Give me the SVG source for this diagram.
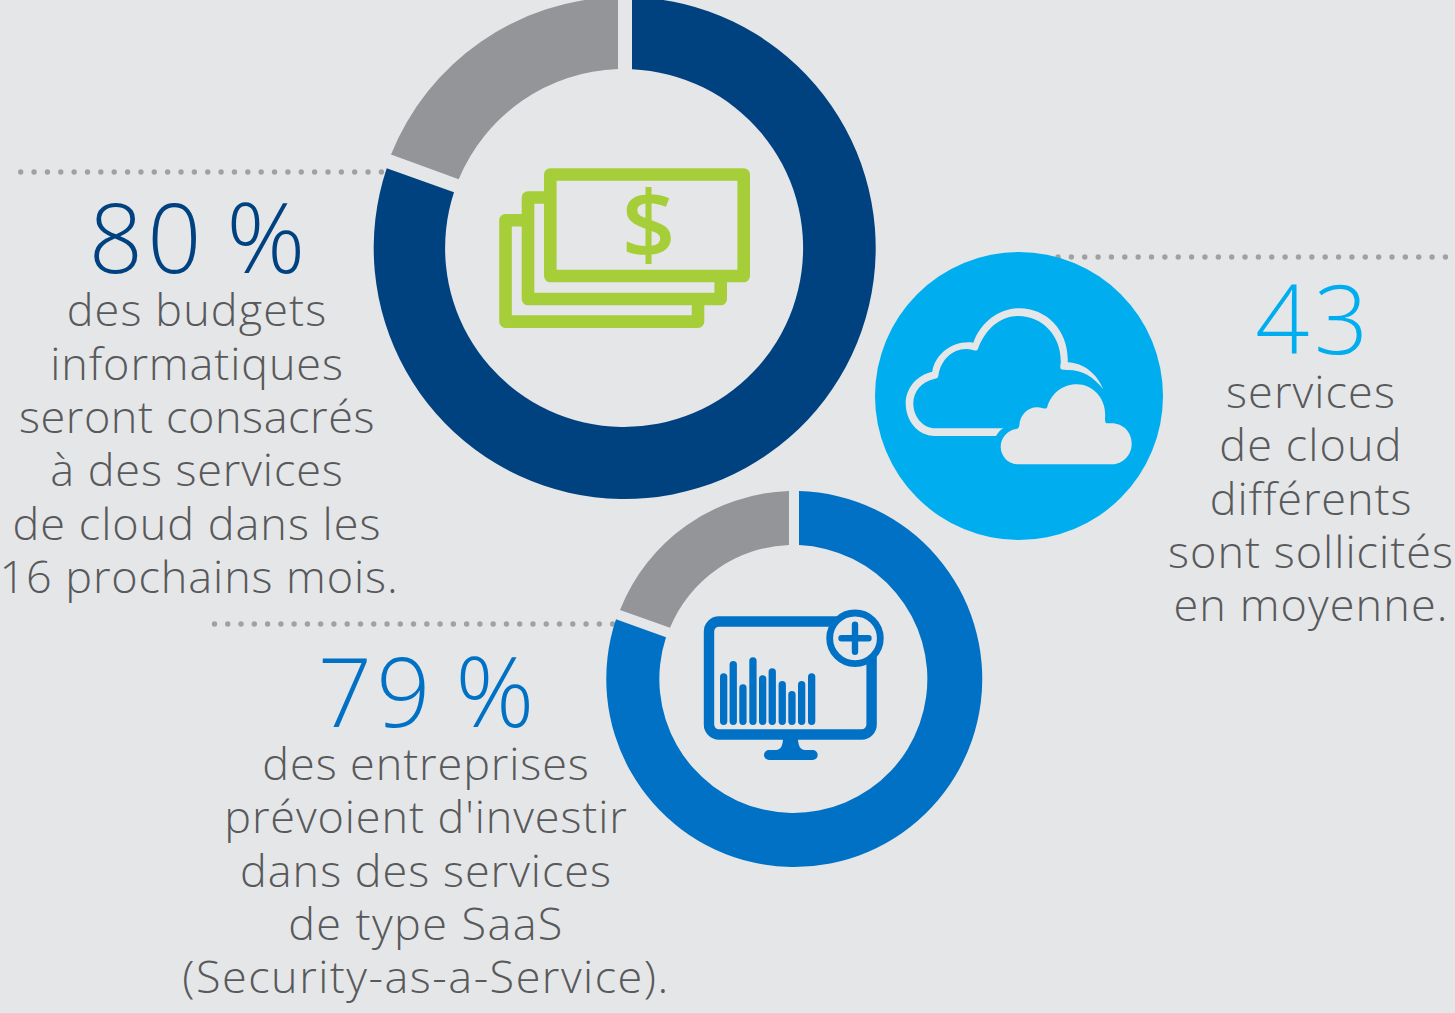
<svg xmlns="http://www.w3.org/2000/svg" width="1455" height="1013" viewBox="0 0 1455 1013">
<style>
.t{font-family:"Open Sans","Noto Sans","Liberation Sans",sans-serif;text-anchor:middle}
.b{font-size:45px;font-weight:300;fill:#58595b;letter-spacing:.9px}
.n{font-size:95px;font-weight:300;letter-spacing:4.5px;word-spacing:-9px}
.p{font-size:98px;letter-spacing:0}
.d{fill:none;stroke:#a0a1a3;stroke-width:5.4;stroke-linecap:round;stroke-dasharray:0 13.36}
.g{fill:none;stroke:#a6ce39;stroke-width:12.6;stroke-linejoin:round}
.m{fill:none;stroke:#0071c5;stroke-linecap:round}
</style>
<rect width="1455" height="1013" fill="#e5e6e8"/>
<g id="connectors">
<line class="d" x1="20.7" y1="172" x2="382" y2="172"/>
<line class="d" x1="1058" y1="257" x2="1462" y2="257"/>
<line class="d" x1="214.5" y1="624" x2="614" y2="624" style="stroke-dasharray:0 13.27"/>
</g>
<g id="node-80">
<path fill="#004280" d="M632,-2.87A251,251 0 1 1 386.7,168.3L454,192.3A179,179 0 1 0 632,69.2Z"/>
<path fill="#939598" d="M618,-2.93A251,251 0 0 0 391,154.6L458.7,179.3A179,179 0 0 1 618,69.1Z"/>
<g id="icon-money">
<path class="g" d="M522,220.3H505.5V321.6H698V305"/>
<path class="g" d="M544,197.5H528V299H720.7V282"/>
<rect class="g" x="550.3" y="174.5" width="193.4" height="101.5"/>
<text class="t" x="648.5" y="259" font-size="94" font-weight="600" fill="#a6ce39">$</text>
</g>
<text class="t n" x="197" y="273" fill="#004280">80 <tspan class="p">%</tspan></text>
<text class="t b"><tspan x="197" y="326" letter-spacing="1.1">des budgets</tspan><tspan x="197" y="380">informatiques</tspan><tspan x="197" y="433" letter-spacing=".6">seront consacrés</tspan><tspan x="197" y="486">à des services</tspan><tspan x="197" y="540" letter-spacing="1">de cloud dans les</tspan><tspan x="199" y="593" letter-spacing=".9">16 prochains mois.</tspan></text>
</g>
<g id="node-43">
<circle cx="1019" cy="396" r="144" fill="#00aeef"/>
<g id="icon-cloud" fill="#e5e6e8">
<path d="M996,436H935C917,436 905.7,420 905.7,403.3C905.7,388 917,375 932.3,371.7C935,354 953,340 973.3,342.7C981,322 999,308.3 1019.3,308.3C1047,308.3 1069,331 1067.7,362.3C1084,363 1097,374 1103.3,389.3C1093,376 1081,369.5 1066.7,370L1062,369.5C1060,369 1060,367 1060.7,363C1062,337 1043,316 1018.3,316C1001,316 986,328 978.3,348C977.5,351 976,351 973,350C955,345.5 941,359 938.5,375C938,378 937,378.5 934,379C921,382 913.3,392 913.3,403.3C913.3,418 924,428.3 935,428.3H1003.3C1000,430 998,433 996,436Z"/>
<path d="M1018.3,464.3H1111.7C1123,464.3 1131.7,455 1131.7,444C1131.7,432 1123,423.3 1111.7,423.3H1106.5C1105.3,423 1105,421 1105,418.3C1107,399 1093,384.3 1076.7,384.3C1062,384.3 1051,394 1047.3,407C1046.5,408.5 1045.5,409 1043,408.3C1031,404 1020,413 1019.3,425.5C1019,428 1018,428.7 1016,429C1007,430.5 1000.7,438 1000.7,446.7C1000.7,456 1008,464.3 1018.3,464.3Z"/>
</g>
<text class="t n" x="1314" y="354" fill="#00aeef">43</text>
<text class="t b"><tspan x="1311" y="408" letter-spacing="1.1">services</tspan><tspan x="1311" y="461" letter-spacing="1.1">de cloud</tspan><tspan x="1311" y="515">différents</tspan><tspan x="1311" y="568" letter-spacing="1">sont sollicités</tspan><tspan x="1311" y="621" letter-spacing="1.1">en moyenne.</tspan></text>
</g>
<g id="node-79">
<path fill="#0071c5" d="M799,491.07A188,188 0 1 1 616,619.3L666,637.3A134,134 0 1 0 799,545.1Z"/>
<path fill="#939598" d="M789,491.07A188,188 0 0 0 620,610L670,627.7A134,134 0 0 1 789,545.1Z"/>
<g id="icon-monitor">
<rect x="709" y="621.5" width="162.6" height="113" rx="10" fill="none" stroke="#0071c5" stroke-width="10.4"/>
<path fill="#0071c5" d="M783,738H798C798,745 800,750 805,750H812.7A5,5 0 0 1 812.7,760H769A5,5 0 0 1 769,750H776C781,750 783,745 783,738Z"/>
<g fill="#0071c5">
<rect x="720" y="673.3" width="7.3" height="51.7" rx="3.65"/>
<rect x="729.6" y="661" width="7.3" height="64" rx="3.65"/>
<rect x="739.3" y="684.3" width="7.3" height="40.7" rx="3.65"/>
<rect x="749.3" y="657.3" width="7.3" height="67.7" rx="3.65"/>
<rect x="759" y="675.3" width="7.3" height="49.7" rx="3.65"/>
<rect x="768.6" y="668.3" width="7.3" height="56.7" rx="3.65"/>
<rect x="778.6" y="681" width="7.3" height="44" rx="3.65"/>
<rect x="788.3" y="691" width="7.3" height="34" rx="3.65"/>
<rect x="798" y="681" width="7.3" height="44" rx="3.65"/>
<rect x="808" y="673.3" width="7.3" height="51.7" rx="3.65"/>
</g>
<circle cx="855" cy="638.3" r="25.3" fill="#e5e6e8" stroke="#0071c5" stroke-width="6.8"/>
<path class="m" stroke-width="6.4" d="M841.5,638.3H868.5M855,624.8V651.8"/>
</g>
<text class="t n" x="426" y="727" fill="#0071c5">79 <tspan class="p">%</tspan></text>
<text class="t b"><tspan x="426" y="780">des entreprises</tspan><tspan x="426" y="833">prévoient d'investir</tspan><tspan x="426" y="887" letter-spacing="1">dans des services</tspan><tspan x="426" y="940" letter-spacing="1.4">de type SaaS</tspan><tspan x="426" y="993" letter-spacing="1.5">(Security-as-a-Service).</tspan></text>
</g>
</svg>
